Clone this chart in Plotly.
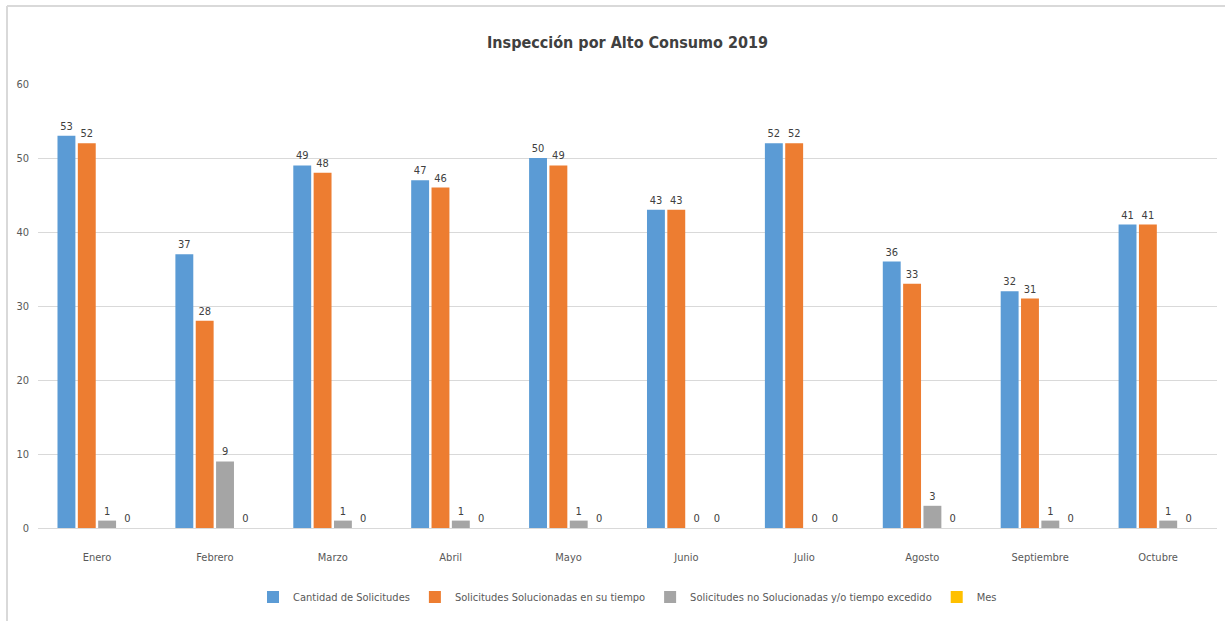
import plotly.graph_objects as go

meses = ["Enero", "Febrero", "Marzo", "Abril", "Mayo", "Junio", "Julio",
         "Agosto", "Septiembre", "Octubre"]
cantidad = [53, 37, 49, 47, 50, 43, 52, 36, 32, 41]
solucionadas = [52, 28, 48, 46, 49, 43, 52, 33, 31, 41]
no_solucionadas = [1, 9, 1, 1, 1, 0, 0, 3, 1, 1]
mes = [0, 0, 0, 0, 0, 0, 0, 0, 0, 0]

series = [
    ("Cantidad de Solicitudes", cantidad, "#5B9BD5"),
    ("Solicitudes Solucionadas en su tiempo", solucionadas, "#ED7D31"),
    ("Solicitudes no Solucionadas y/o tiempo excedido", no_solucionadas, "#A5A5A5"),
    ("Mes", mes, "#FFC000"),
]

FONT = "Liberation Sans Narrow, DejaVu Sans Condensed, Arial Narrow, sans-serif"
TXT = "#595959"

fig = go.Figure()
for name, vals, color in series:
    fig.add_trace(go.Bar(
        x=meses, y=vals, name=name,
        marker=dict(color=color, line=dict(width=0)),
        text=[str(v) for v in vals],
        textposition="outside",
        cliponaxis=False,
        textfont=dict(family=FONT, size=11, color="#404040"),
    ))

W, H = 1225, 621
ml, mr, mt, mb = 38, 8, 84, 93
pw, ph = W - ml - mr, H - mt - mb
bx0 = (7 - ml) / pw
by1 = 1 + (mt - 6) / ph

fig.update_layout(
    width=W, height=H,
    margin=dict(l=ml, r=mr, t=mt, b=mb),
    paper_bgcolor="white", plot_bgcolor="white",
    barmode="group", bargap=0.31, bargroupgap=0.12,
    font=dict(family=FONT, color=TXT, size=11),
    title=dict(text="<b>Inspección por Alto Consumo 2019</b>",
               x=0.5, xref="paper", xanchor="center",
               y=1 - 42 / H, yanchor="middle",
               font=dict(family=FONT, size=16, color="#404040")),
    xaxis=dict(showgrid=False, showline=True, linecolor="#D9D9D9", linewidth=1,
               ticks="", tickfont=dict(size=11, color=TXT),
               ticklabelstandoff=19),
    yaxis=dict(range=[0, 60], dtick=10, showgrid=True, gridcolor="#D9D9D9",
               gridwidth=1, zeroline=False, ticks="",
               tickfont=dict(size=11, color=TXT), ticklabelstandoff=8),
    legend=dict(orientation="h", x=0.5, xanchor="center",
                y=-(597 - 528) / ph, yanchor="middle",
                font=dict(size=11, color=TXT), itemwidth=30,
                traceorder="normal"),
    shapes=[
        dict(type="line", xref="paper", yref="paper", x0=bx0, x1=bx0,
             y0=by1, y1=-(H - mt - ph + 10) / ph,
             line=dict(color="#D9D9D9", width=2)),
        dict(type="line", xref="paper", yref="paper", x0=bx0, x1=1 + mr / pw,
             y0=by1, y1=by1, line=dict(color="#D9D9D9", width=2)),
    ],
)

fig.write_html("out.html")
